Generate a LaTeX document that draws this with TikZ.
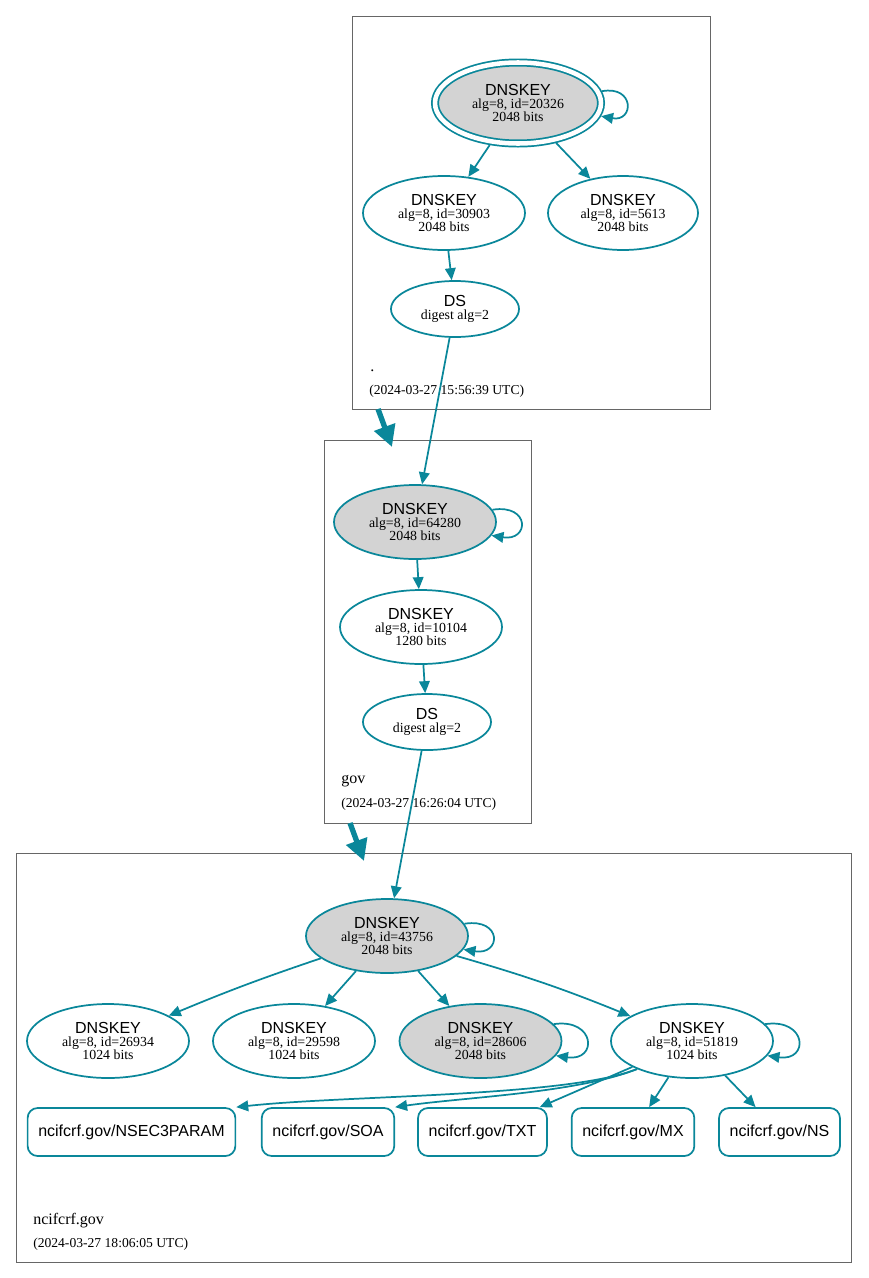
\documentclass[tikz,border=0pt]{standalone}
\usepackage{fontspec}
\setmainfont{Liberation Serif}
\setsansfont{Liberation Sans}
\usepackage{tikz}
\usetikzlibrary{shapes.geometric}
\usetikzlibrary{arrows.meta}
\usetikzlibrary{positioning}
\definecolor{secure}{HTML}{0A879A}
\definecolor{keygray}{HTML}{D3D3D3}
\colorlet{zoneline}{black!60}
\newcommand{\keytxt}[2]{{\sffamily\fontsize{12}{10}\selectfont DNSKEY}\\alg=8, id=#1\\#2 bits}
\newcommand{\dstxt}{{\sffamily\fontsize{12}{10}\selectfont DS}\\digest alg=2}

\begin{document}
\begin{tikzpicture}[
x=0.75pt,y=-0.75pt,
MyKeys/.style={ellipse,draw=secure,line width=1.3pt,fill=white,minimum width=121.5pt,minimum height=55.5pt,inner sep=1pt,align=center,font=\fontsize{10.4}{9.6}\selectfont},
MyKSK/.style={MyKeys,fill=keygray},
MyTrust/.style={MyKSK,double=white,double distance=3.4pt,minimum width=124.5pt,minimum height=60.75pt,outer sep=3pt},
MyDS/.style={MyKeys,minimum width=96pt,minimum height=42pt},
MyRRs/.style={rectangle,rounded corners=7.5pt,draw=secure,line width=1.3pt,inner xsep=8pt,minimum height=36pt,font=\sffamily\fontsize{12}{14}\selectfont},
MyEdges/.style={draw=secure,line width=1.3pt,-{Triangle[length=9pt,width=8pt]}},
MyDeleg/.style={draw=secure,line width=4pt,-{Triangle[length=16pt,width=16pt]}},
MyZones/.style={draw=zoneline,line width=0.75pt},
ZoneName/.style={anchor=base west,inner sep=0pt,font=\fontsize{12}{14}\selectfont},
ZoneTime/.style={anchor=base west,inner sep=0pt,font=\fontsize{10.2}{12}\selectfont}
]
\useasboundingbox (0,0) rectangle (868,1278);

% zone boxes
\draw[MyZones] (352,16) rectangle (710,409);
\draw[MyZones] (324,440) rectangle (531,823);
\draw[MyZones] (16,853) rectangle (851,1262);

% root zone
\node[MyTrust] (RK) at (518,103) {\keytxt{20326}{2048}};
\node[MyKeys] (RZ) at (444,213) {\keytxt{30903}{2048}};
\node[MyKeys,minimum width=112.5pt] (RZb) at (623,213) {\keytxt{5613}{2048}};
\node[MyDS] (RDS) at (455,309) {\dstxt};
\node[ZoneName] (RName) at (370,371) {.};
\node[ZoneTime] (RTime) at (369,394) {(2024-03-27 15:56:39 UTC)};

% gov
\node[MyKSK] (GK) at (415,522) {\keytxt{64280}{2048}};
\node[MyKeys] (GZ) at (421,627) {\keytxt{10104}{1280}};
\node[MyDS] (GDS) at (427,722) {\dstxt};
\node[ZoneName] (GName) at (341,783) {gov};
\node[ZoneTime] (GTime) at (341,807) {(2024-03-27 16:26:04 UTC)};

% ncifcrf.gov
\node[MyKSK] (NK) at (387,936) {\keytxt{43756}{2048}};
\node[MyKeys] (Na) at (108,1041) {\keytxt{26934}{1024}};
\node[MyKeys] (Nb) at (294,1041) {\keytxt{29598}{1024}};
\node[MyKSK] (Nc) at (480.5,1041) {\keytxt{28606}{2048}};
\node[MyKeys] (Nd) at (692,1041) {\keytxt{51819}{1024}};

\node[MyRRs] (NSEC) at (131.5,1132) {ncifcrf.gov/NSEC3PARAM};
\node[MyRRs] (SOA) at (328,1132) {ncifcrf.gov/SOA};
\node[MyRRs] (TXT) at (482.5,1132) {ncifcrf.gov/TXT};
\node[MyRRs] (MX) at (633,1132) {ncifcrf.gov/MX};
\node[MyRRs] (NS) at (779.5,1132) {ncifcrf.gov/NS};
\node[ZoneName] (NName) at (33,1224) {ncifcrf.gov};
\node[ZoneTime] (NTime) at (33,1247) {(2024-03-27 18:06:05 UTC)};

% delegations
\coordinate (RootOut) at (378,409);
\coordinate (GovIn) at (392,447);
\coordinate (GovOut) at (350,823);
\coordinate (NcifIn) at (364,861);
\draw[MyDeleg] (RootOut) -- (GovIn);
\draw[MyDeleg] (GovOut) -- (NcifIn);

% signatures
\draw[MyEdges] (RK.8) .. controls +(33,-6) and +(33,6) .. (RK.-9);
\draw[MyEdges] (RK) -- (RZ);
\draw[MyEdges] (RK) -- (RZb);
\draw[MyEdges] (RZ) -- (RDS);
\draw[MyEdges] (RDS) -- (GK);

\draw[MyEdges] (GK.9) .. controls +(38,-6) and +(38,6) .. (GK.-10);
\draw[MyEdges] (GK) -- (GZ);
\draw[MyEdges] (GZ) -- (GDS);
\draw[MyEdges] (GDS) -- (NK);

\draw[MyEdges] (NK.9) .. controls +(38,-6) and +(38,6) .. (NK.-10);
\draw[MyEdges] (NK) to[bend right=2] (Na);
\draw[MyEdges] (NK) -- (Nb);
\draw[MyEdges] (NK) -- (Nc);
\draw[MyEdges] (NK) to[bend left=3] (Nd);
\draw[MyEdges] (Nc.13) .. controls +(42,-6) and +(42,6) .. (Nc.-11);
\draw[MyEdges] (Nd.13) .. controls +(42,-6) and +(42,6) .. (Nd.-11);

\draw[MyEdges] (Nd.207) .. controls +(-70,28) and +(110,-12) .. (NSEC.north east);
\draw[MyEdges] (Nd.207) .. controls +(-60,24) and +(70,-10) .. (SOA.north east);
\draw[MyEdges] (Nd) -- (TXT);
\draw[MyEdges] (Nd) -- (MX);
\draw[MyEdges] (Nd) -- (NS);

\end{tikzpicture}
\end{document}
